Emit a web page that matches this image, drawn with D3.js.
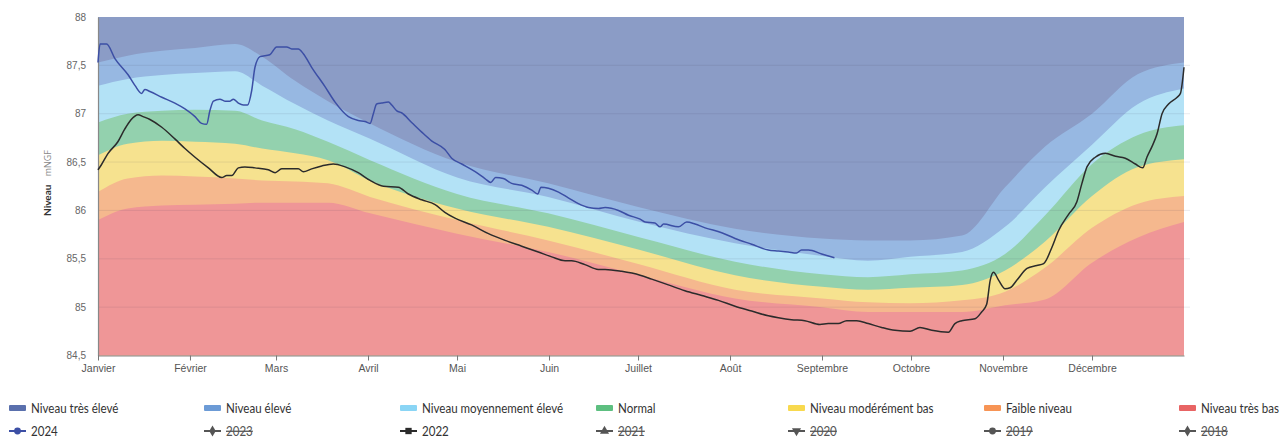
<!DOCTYPE html>
<html><head><meta charset="utf-8">
<script src="https://cdn.jsdelivr.net/npm/d3@7"></script>
<style>
html,body{margin:0;padding:0;background:#fff;}
svg{display:block;font-family:"Open Sans",Lato,sans-serif;}
</style></head>
<body><svg id="c" width="1284" height="439"></svg>
<script>
// ---- Data ----
const months = ["Janvier","Février","Mars","Avril","Mai","Juin","Juillet","Août","Septembre","Octobre","Novembre","Décembre"];
const yTicks = [84.5,85,85.5,86,86.5,87,87.5,88];
const yTickLabels = ["84,5","85","85,5","86","86,5","87","87,5","88"];

// band thresholds (mNGF) by day of year
const bandDays = [0,10,21.6,32.7,46.2,55.3,66.4,77.5,91.7,121,151.7,182.7,214.7,244,259.5,273.7,291.2,305.7,319.2,335,350.5,366];
const seuilTresEleve   = [87.53,87.60,87.65,87.68,87.72,87.59,87.34,87.13,86.90,86.50,86.28,86.03,85.81,85.71,85.69,85.69,85.74,86.24,86.66,87.00,87.41,87.53];
const seuilEleve       = [87.29,87.36,87.40,87.42,87.44,87.29,87.10,86.93,86.74,86.34,86.14,85.88,85.66,85.53,85.48,85.52,85.57,85.83,86.24,86.68,87.10,87.26];
const seuilMoyEleve    = [86.91,87.00,87.03,87.04,87.03,86.93,86.84,86.71,86.52,86.17,85.97,85.72,85.47,85.34,85.31,85.34,85.38,85.55,85.95,86.48,86.78,86.88];
const seuilNormal      = [86.57,86.69,86.72,86.71,86.69,86.64,86.59,86.52,86.31,86.02,85.83,85.59,85.33,85.21,85.18,85.20,85.23,85.38,85.68,86.15,86.45,86.53];
const seuilModereBas   = [86.19,86.33,86.36,86.35,86.33,86.31,86.30,86.28,86.14,85.90,85.69,85.44,85.18,85.09,85.05,85.04,85.07,85.16,85.41,85.82,86.07,86.15];
const seuilFaible      = [85.90,86.02,86.05,86.06,86.07,86.08,86.08,86.08,85.97,85.76,85.57,85.33,85.09,85.00,84.95,84.95,84.95,85.02,85.08,85.46,85.72,85.88];

// 2024 series
const days2024 = [0,0.7,2.9,5.7,10.2,12.5,14.7,15.8,17.5,21.5,25.9,29.3,32.7,34.9,36.6,37.7,38.9,41.1,42.8,44.5,45.6,47.3,49,50.4,51.8,52.9,54.6,57.9,60.2,63.6,65.3,67.5,69.2,72,76.5,79.9,84.4,87.7,90,91.7,92.8,93.9,95.6,97.9,99,100.7,102.3,105.7,109.1,112.4,116.9,119.2,122.6,127.1,130.4,132.4,134,136.6,139.4,142.8,146.2,148.2,149.3,151.8,155.2,158.5,161.9,165.3,168.7,170.9,175.4,178.8,182.7,184.4,187.7,189.4,190.6,195.6,198.4,201.2,204.6,210.2,214.7,220.3,225.9,229.3,232.6,235.4,237.1,239.4,243.9,248.2];
const vals2024 = [87.53,87.72,87.72,87.57,87.40,87.29,87.21,87.25,87.23,87.17,87.11,87.05,86.97,86.90,86.89,87.03,87.13,87.15,87.13,87.13,87.15,87.11,87.09,87.09,87.24,87.48,87.59,87.61,87.69,87.69,87.67,87.67,87.62,87.48,87.28,87.12,86.97,86.93,86.92,86.90,87.00,87.10,87.11,87.12,87.09,87.03,87.01,86.91,86.81,86.72,86.63,86.54,86.48,86.40,86.33,86.29,86.34,86.33,86.28,86.26,86.21,86.17,86.24,86.23,86.19,86.13,86.07,86.03,86.02,86.03,86.00,85.95,85.91,85.88,85.87,85.83,85.86,85.83,85.88,85.86,85.82,85.77,85.71,85.65,85.59,85.58,85.57,85.56,85.59,85.59,85.55,85.51];

// 2022 series
const days2022 = [0,1.1,3.4,6.7,9,11.2,13.5,15.2,17.5,21.5,25.9,29.3,32.7,37.2,41.7,43.4,45.1,47.3,49.5,52.9,57.4,59.7,61.9,67.5,69.2,72,75.4,79.3,83.3,87.7,91.7,96.2,101.2,104.6,109.1,113.6,116.9,120.3,125.9,131.6,137.2,142.8,148.4,152.9,157.4,159.6,164.1,168.6,170.9,176.5,182.7,186.6,192.2,197.8,203.5,209.1,214.7,220.3,225.9,229.3,233.7,238.2,243.3,246.1,249.5,252.3,255.7,259.6,264.1,268.6,273.7,277,281,286.6,288.8,291.1,295.6,297.8,299.5,300.7,301.8,303.5,305.7,307.4,309.7,313.1,316.4,318.7,321.5,323.7,327.1,329.9,331.6,333.3,336.1,339.5,342.9,346.2,349.6,352.1,353.5,355.2,356.9,358.6,360.8,363.7,364.8,366];
const vals2022 = [86.42,86.47,86.59,86.71,86.84,86.94,86.99,86.97,86.94,86.86,86.74,86.64,86.55,86.44,86.34,86.36,86.36,86.44,86.45,86.44,86.42,86.39,86.43,86.43,86.40,86.43,86.46,86.48,86.45,86.39,86.31,86.25,86.24,86.17,86.11,86.06,85.98,85.92,85.85,85.76,85.69,85.63,85.57,85.52,85.48,85.48,85.44,85.39,85.39,85.37,85.33,85.29,85.23,85.17,85.12,85.07,85.01,84.96,84.91,84.89,84.87,84.86,84.82,84.83,84.83,84.86,84.86,84.83,84.79,84.76,84.75,84.79,84.76,84.74,84.83,84.86,84.88,84.95,85.03,85.28,85.36,85.28,85.19,85.20,85.28,85.40,85.43,85.45,85.62,85.79,85.96,86.09,86.28,86.45,86.55,86.59,86.56,86.54,86.48,86.44,86.55,86.66,86.79,87.00,87.10,87.17,87.21,87.48];

const bandLegend = ["Niveau très élevé","Niveau élevé","Niveau moyennement élevé","Normal","Niveau modérément bas","Faible niveau","Niveau très bas"];
const yearLegend = ["2024","2023","2022","2021","2020","2019","2018"];
const yearHidden = [false,true,false,true,true,true,true];

// ---- Styles ----
const bandFill = ["#8b9cc6","#97b8e2","#b3e2f6","#93d1ae","#f6e28f","#f5b88e","#ef9697"];
const bandLegendColor = ["#5a70ad","#6c9bd6","#8ad5f5","#5dbf80","#f8d94e","#f79455","#e86464"];
const yearColor = ["#3c4fa5","#555","#2b2b2b","#555","#555","#555","#555"];
const yearSymbol = [d3.symbolCircle,d3.symbolDiamond,d3.symbolSquare,d3.symbolTriangle,d3.symbolTriangle,d3.symbolCircle,d3.symbolDiamond];

const svg = d3.select("#c");
const L=98, R=1184, T=17, B=355.5;
const t0 = new Date(2024,0,1), t1 = new Date(2025,0,1);
const dayToDate = d => new Date(t0.getTime() + d*86400000);
const x = d3.scaleTime().domain([t0,t1]).range([L,R]);
const y = d3.scaleLinear().domain([84.5,88]).range([B,T]);

// background (très élevé)
svg.append("rect").attr("x",L).attr("y",T).attr("width",R-L).attr("height",B-T).attr("fill",bandFill[0]);

const bounds = [seuilTresEleve,seuilEleve,seuilMoyEleve,seuilNormal,seuilModereBas,seuilFaible];
bounds.forEach((arr,i)=>{
  const data = bandDays.map((d,j)=>({d:dayToDate(d),v:arr[j]}));
  const area = d3.area().x(p=>x(p.d)).y0(B).y1(p=>y(p.v)).curve(d3.curveMonotoneX);
  svg.append("path").datum(data).attr("d",area).attr("fill",bandFill[i+1]);
});

// gridlines
svg.append("g").selectAll("line").data(yTicks.slice(1,-1)).join("line")
  .attr("x1",L).attr("x2",R+6).attr("y1",d=>y(d)).attr("y2",d=>y(d))
  .attr("stroke","rgba(60,60,90,0.10)").attr("stroke-width",1);

// axes
const yAxis = svg.append("g").attr("transform",`translate(${L},0)`)
  .call(d3.axisLeft(y).tickValues(yTicks).tickFormat((d,i)=>yTickLabels[i]).tickSize(0).tickPadding(12));
yAxis.select(".domain").attr("stroke","#888").attr("stroke-width",1.2);
yAxis.selectAll("text").attr("fill","#666").attr("font-size","10px");

const monthDates = months.map((m,i)=>new Date(2024,i,1));
const xAxis = svg.append("g").attr("transform",`translate(0,${B})`)
  .call(d3.axisBottom(x).tickValues(monthDates).tickFormat((d,i)=>months[i]).tickSize(5).tickPadding(4).tickSizeOuter(0));
xAxis.select(".domain").attr("stroke","#888");
xAxis.selectAll("line").attr("stroke","#777");
xAxis.selectAll("text").attr("fill","#555").attr("font-size","10.5px");

// y title
const yt = svg.append("text").attr("transform","translate(51,183) rotate(-90)").attr("text-anchor","middle").attr("font-size","10px");
yt.append("tspan").text("Niveau").attr("font-weight","bold").attr("fill","#333").attr("font-family","Lato,sans-serif");
yt.append("tspan").text("  mNGF").attr("fill","#888").attr("font-size","9px").attr("dx","6");

// lines
const line = d3.line().x(p=>x(p.d)).y(p=>y(p.v)).curve(d3.curveMonotoneX);
svg.append("path").datum(days2022.map((d,j)=>({d:dayToDate(d),v:vals2022[j]})))
  .attr("d",line).attr("fill","none").attr("stroke","#2b2b2b").attr("stroke-width",1.5);
svg.append("path").datum(days2024.map((d,j)=>({d:dayToDate(d),v:vals2024[j]})))
  .attr("d",line).attr("fill","none").attr("stroke","#3c4fa5").attr("stroke-width",1.5);

// legend
const colX = [9,204,400,596,788,984,1179];
const leg = svg.append("g").attr("font-family","Lato,sans-serif").attr("font-size","13px");
bandLegend.forEach((t,i)=>{
  const g = leg.append("g").attr("transform",`translate(${colX[i]},408)`);
  g.append("rect").attr("x",0).attr("y",-3).attr("width",17).attr("height",6).attr("rx",1).attr("fill",bandLegendColor[i]);
  g.append("text").attr("transform","translate(22,4.5) scale(0.89,1)").attr("fill","#333").text(t);
});
yearLegend.forEach((t,i)=>{
  const g = leg.append("g").attr("transform",`translate(${colX[i]},431)`);
  g.append("line").attr("x1",0).attr("x2",17).attr("y1",0).attr("y2",0).attr("stroke",yearColor[i]).attr("stroke-width",2);
  g.append("path").attr("d",d3.symbol().type(yearSymbol[i]).size(i===2?40:36)()).attr("transform",`translate(8.5,0)${i===4?" rotate(180)":""}`).attr("fill",yearColor[i]);
  g.append("text").attr("transform","translate(22,4.5) scale(0.89,1)").attr("fill",yearHidden[i]?"#555":"#333")
    .attr("text-decoration",yearHidden[i]?"line-through":null).text(t);
});
</script></body></html>
